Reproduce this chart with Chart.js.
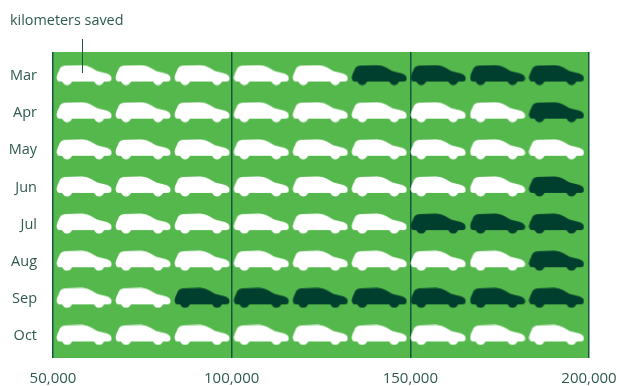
<!DOCTYPE html>
<html>
<head>
<meta charset="utf-8">
<script src="https://cdn.jsdelivr.net/npm/chart.js@4"></script>
<style>
  html, body { margin: 0; padding: 0; background: #fff; }
  #wrap { width: 620px; height: 386px; }
</style>
</head>
<body>
<div id="wrap"><canvas id="chart"></canvas></div>
<script>
const months = ['Mar', 'Apr', 'May', 'Jun', 'Jul', 'Aug', 'Sep', 'Oct'];
// white cars in each row, out of nine
const savedCars = [5, 8, 9, 8, 6, 8, 2, 9];
// centre of each car along the km axis
const carSlots = [58700, 75200, 91700, 108300, 124800, 141300, 157800, 174400, 190900];
const xTicks = [50000, 100000, 150000, 200000];

const TEXT = '#2f5a50';
const GREEN = '#55b84d';
const DARK = '#003f2d';
const LINE = '#14573f';

function makeCar(color) {
  const c = document.createElement('canvas');
  c.width = 56;
  c.height = 21;
  const g = c.getContext('2d');
  g.fillStyle = color;
  g.beginPath();
  g.moveTo(0.5, 13);
  g.quadraticCurveTo(1, 9, 3, 6);
  g.quadraticCurveTo(4, 1.5, 9, 1);
  g.lineTo(26, 0.5);
  g.quadraticCurveTo(31, 0.5, 35, 3);
  g.lineTo(41, 6.5);
  g.lineTo(51, 9);
  g.quadraticCurveTo(55.5, 10.5, 55.5, 14);
  g.quadraticCurveTo(55.5, 17, 52, 17);
  g.lineTo(48, 17);
  g.quadraticCurveTo(46, 20.5, 43, 20.5);
  g.quadraticCurveTo(40, 20.5, 38, 17);
  g.lineTo(16, 17);
  g.quadraticCurveTo(14, 20.5, 11, 20.5);
  g.quadraticCurveTo(8, 20.5, 6, 17);
  g.lineTo(3, 17);
  g.quadraticCurveTo(0.5, 16, 0.5, 13);
  g.closePath();
  g.fill();
  return c;
}

const whiteCar = makeCar('#ffffff');
const darkCar = makeCar(DARK);

const savedPoints = [];
const otherPoints = [];
months.forEach((m, row) => {
  carSlots.forEach((x, i) => {
    (i < savedCars[row] ? savedPoints : otherPoints).push({ x, y: row });
  });
});

const pictogram = {
  id: 'pictogram',
  beforeDraw(chart) {
    const { ctx, chartArea: a } = chart;
    ctx.save();
    ctx.fillStyle = GREEN;
    ctx.fillRect(a.left, a.top, a.right - a.left, a.bottom - a.top);
    ctx.restore();
  },
  afterDraw(chart) {
    const { ctx, scales } = chart;
    const lx = Math.round(scales.x.getPixelForValue(58200)) + 0.5;
    ctx.save();
    ctx.strokeStyle = LINE;
    ctx.lineWidth = 1;
    ctx.beginPath();
    ctx.moveTo(lx, 39);
    ctx.lineTo(lx, scales.y.getPixelForValue(0) - 2);
    ctx.stroke();
    ctx.fillStyle = TEXT;
    ctx.font = '14.4px "Open Sans"';
    ctx.textBaseline = 'middle';
    ctx.fillText('kilometers saved', 10, 21);
    ctx.restore();
  },
};

new Chart(document.getElementById('chart'), {
  type: 'scatter',
  data: {
    datasets: [
      { label: 'saved', data: savedPoints, pointStyle: whiteCar },
      { label: 'remaining', data: otherPoints, pointStyle: darkCar },
    ],
  },
  options: {
    responsive: true,
    maintainAspectRatio: false,
    animation: false,
    layout: { padding: { top: 52, right: 31, left: 0, bottom: 0 } },
    plugins: { legend: { display: false }, tooltip: { enabled: false } },
    scales: {
      x: {
        type: 'linear',
        min: 50000,
        max: 200000,
        afterBuildTicks: (axis) => { axis.ticks = xTicks.map((value) => ({ value })); },
        afterFit: (axis) => {
          axis.height = 28;
          axis.paddingLeft = 0;
          axis.paddingRight = 0;
        },
        border: { display: false },
        grid: { color: LINE, lineWidth: 1.5, drawTicks: false },
        ticks: {
          color: TEXT,
          font: { family: 'Open Sans', size: 15 },
          padding: 12,
          maxRotation: 0,
          callback: (v) => v.toLocaleString('en-US'),
        },
      },
      y: {
        type: 'linear',
        reverse: true,
        min: -0.62,
        max: 7.62,
        afterBuildTicks: (axis) => { axis.ticks = months.map((m, value) => ({ value })); },
        afterFit: (axis) => { axis.width = 53; },
        border: { display: false },
        grid: { display: false, drawTicks: false },
        ticks: {
          color: TEXT,
          font: { family: 'Open Sans', size: 14.5 },
          padding: 16,
          labelOffset: 1,
          callback: (v) => months[v],
        },
      },
    },
  },
  plugins: [pictogram],
});
</script>
</body>
</html>
